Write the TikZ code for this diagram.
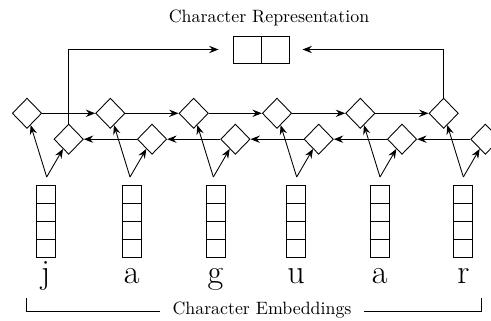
\documentclass[tikz,border=0pt]{standalone}
\usetikzlibrary{shapes.geometric,arrows.meta}
\begin{document}
\begin{tikzpicture}[x=0.5714pt,y=-0.5714pt,
  line width=0.5pt,
  cell/.style={draw, rectangle, inner sep=0pt, minimum width=10.86pt, minimum height=10.3pt},
  rnn/.style={draw, diamond, inner sep=0pt, minimum width=16.8pt, minimum height=17.3pt},
  repcell/.style={draw, rectangle, inner sep=0pt, minimum width=16pt, minimum height=15.4pt},
  arr/.style={-{Stealth[length=5.4pt,width=4.2pt,inset=1.9pt]}},
  letter/.style={font=\fontsize{19.5}{24}\selectfont, anchor=base, inner sep=0pt},
  caption/.style={font=\fontsize{10.2}{12}\selectfont}]
\useasboundingbox (0,0) rectangle (491,321);

% embedding vectors and their characters
\foreach \i/\sx/\ch in {1/45.5/j, 2/131.8/a, 3/215.5/g, 4/296/u, 5/379.7/a, 6/463.3/r}{
  \foreach \k in {1,...,4}{
    \node[cell] (e\i-\k) at (\sx,{176+18*\k}) {};
  }
  \node[letter] (l\i) at (\sx,284) {\ch};
}

% forward and backward LSTM cells
\foreach \i in {1,...,6}{
  \coordinate (a\i) at ({46.7+83.33*(\i-1)},177);
  \node[rnn] (f\i) at ({27+83.33*(\i-1)},113.3) {};
  \node[rnn] (b\i) at ({68.7+83.33*(\i-1)},139.2) {};
}
\foreach \i in {1,...,6}{
  \draw[arr] (a\i) -- (f\i);
  \draw[arr] (a\i) -- (b\i);
}
\foreach \i in {1,...,5}{
  \pgfmathtruncatemacro{\j}{\i+1}
  \draw[arr] (f\i.east) -- (f\j.west);
  \draw[arr] (b\j.west) -- (b\i.east);
}

% character representation
\node[caption, anchor=base] (title) at (269,23) {Character Representation};
\node[repcell] (r1) at (247.5,49.5) {};
\node[repcell] (r2) at (275.5,49.5) {};
\draw[arr, shorten >=8.3pt] (b1.north) |- (r1.west);
\draw[arr, shorten >=7.2pt] (f6.north) |- (r2.east);

% bracket under the characters
\node[caption, anchor=mid, inner xsep=6.9pt, inner ysep=0pt] (emb) at (262,311) {Character Embeddings};
\coordinate (bl) at (26,298);
\coordinate (br) at (481,298);
\draw (emb.mid west) -| (bl);
\draw (emb.mid east) -| (br);
\end{tikzpicture}
\end{document}
